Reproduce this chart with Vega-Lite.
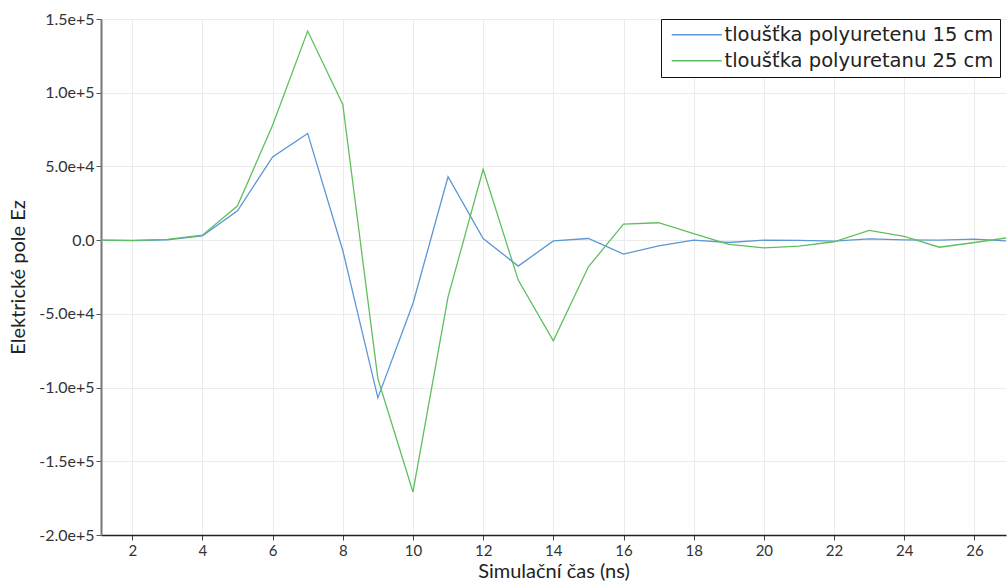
{
  "$schema": "https://vega.github.io/schema/vega-lite/v6.json",
  "width": 905,
  "height": 516,
  "autosize": {"type": "none"},
  "padding": {"left": 101, "top": 19, "right": 2, "bottom": 53},
  "background": "white",
  "config": {
    "view": {"stroke": null},
    "font": "Lato"
  },
  "data": {
    "values": [
      {"t": 1, "Ez": 0, "s": "tloušťka polyuretenu 15 cm"},
      {"t": 2, "Ez": -300, "s": "tloušťka polyuretenu 15 cm"},
      {"t": 3, "Ez": 200, "s": "tloušťka polyuretenu 15 cm"},
      {"t": 4, "Ez": 2900, "s": "tloušťka polyuretenu 15 cm"},
      {"t": 5, "Ez": 19900, "s": "tloušťka polyuretenu 15 cm"},
      {"t": 6, "Ez": 56500, "s": "tloušťka polyuretenu 15 cm"},
      {"t": 7, "Ez": 72400, "s": "tloušťka polyuretenu 15 cm"},
      {"t": 8, "Ez": -7000, "s": "tloušťka polyuretenu 15 cm"},
      {"t": 9, "Ez": -107000, "s": "tloušťka polyuretenu 15 cm"},
      {"t": 10, "Ez": -43000, "s": "tloušťka polyuretenu 15 cm"},
      {"t": 11, "Ez": 43000, "s": "tloušťka polyuretenu 15 cm"},
      {"t": 12, "Ez": 1100, "s": "tloušťka polyuretenu 15 cm"},
      {"t": 13, "Ez": -17600, "s": "tloušťka polyuretenu 15 cm"},
      {"t": 14, "Ez": -500, "s": "tloušťka polyuretenu 15 cm"},
      {"t": 15, "Ez": 1100, "s": "tloušťka polyuretenu 15 cm"},
      {"t": 16, "Ez": -9500, "s": "tloušťka polyuretenu 15 cm"},
      {"t": 17, "Ez": -3900, "s": "tloušťka polyuretenu 15 cm"},
      {"t": 18, "Ez": 0, "s": "tloušťka polyuretenu 15 cm"},
      {"t": 19, "Ez": -1600, "s": "tloušťka polyuretenu 15 cm"},
      {"t": 20, "Ez": 0, "s": "tloušťka polyuretenu 15 cm"},
      {"t": 21, "Ez": -200, "s": "tloušťka polyuretenu 15 cm"},
      {"t": 22, "Ez": -700, "s": "tloušťka polyuretenu 15 cm"},
      {"t": 23, "Ez": 900, "s": "tloušťka polyuretenu 15 cm"},
      {"t": 24, "Ez": 200, "s": "tloušťka polyuretenu 15 cm"},
      {"t": 25, "Ez": 0, "s": "tloušťka polyuretenu 15 cm"},
      {"t": 26, "Ez": 700, "s": "tloušťka polyuretenu 15 cm"},
      {"t": 27, "Ez": -700, "s": "tloušťka polyuretenu 15 cm"},
      {"t": 1, "Ez": 0, "s": "tloušťka polyuretanu 25 cm"},
      {"t": 2, "Ez": -200, "s": "tloušťka polyuretanu 25 cm"},
      {"t": 3, "Ez": 500, "s": "tloušťka polyuretanu 25 cm"},
      {"t": 4, "Ez": 3400, "s": "tloušťka polyuretanu 25 cm"},
      {"t": 5, "Ez": 23300, "s": "tloušťka polyuretanu 25 cm"},
      {"t": 6, "Ez": 78000, "s": "tloušťka polyuretanu 25 cm"},
      {"t": 7, "Ez": 141800, "s": "tloušťka polyuretanu 25 cm"},
      {"t": 8, "Ez": 92100, "s": "tloušťka polyuretanu 25 cm"},
      {"t": 9, "Ez": -93900, "s": "tloušťka polyuretanu 25 cm"},
      {"t": 10, "Ez": -170800, "s": "tloušťka polyuretanu 25 cm"},
      {"t": 11, "Ez": -38500, "s": "tloušťka polyuretanu 25 cm"},
      {"t": 12, "Ez": 48000, "s": "tloušťka polyuretanu 25 cm"},
      {"t": 13, "Ez": -27100, "s": "tloušťka polyuretanu 25 cm"},
      {"t": 14, "Ez": -68300, "s": "tloušťka polyuretanu 25 cm"},
      {"t": 15, "Ez": -18100, "s": "tloušťka polyuretanu 25 cm"},
      {"t": 16, "Ez": 10900, "s": "tloušťka polyuretanu 25 cm"},
      {"t": 17, "Ez": 11800, "s": "tloušťka polyuretanu 25 cm"},
      {"t": 18, "Ez": 4500, "s": "tloušťka polyuretanu 25 cm"},
      {"t": 19, "Ez": -2900, "s": "tloušťka polyuretanu 25 cm"},
      {"t": 20, "Ez": -5200, "s": "tloušťka polyuretanu 25 cm"},
      {"t": 21, "Ez": -4100, "s": "tloušťka polyuretanu 25 cm"},
      {"t": 22, "Ez": -1100, "s": "tloušťka polyuretanu 25 cm"},
      {"t": 23, "Ez": 6600, "s": "tloušťka polyuretanu 25 cm"},
      {"t": 24, "Ez": 2500, "s": "tloušťka polyuretanu 25 cm"},
      {"t": 25, "Ez": -4800, "s": "tloušťka polyuretanu 25 cm"},
      {"t": 26, "Ez": -1600, "s": "tloušťka polyuretanu 25 cm"},
      {"t": 27, "Ez": 1800, "s": "tloušťka polyuretanu 25 cm"}
    ]
  },
  "mark": {"type": "line", "strokeWidth": 1.3, "clip": true},
  "encoding": {
    "x": {
      "field": "t",
      "type": "quantitative",
      "scale": {"domain": [1.11, 26.9], "nice": false, "zero": false},
      "axis": {
        "title": "Simulační čas (ns)",
        "titleFontSize": 20,
        "titleFontWeight": "normal",
        "titleColor": "#222",
        "titlePadding": 3,
        "values": [2, 4, 6, 8, 10, 12, 14, 16, 18, 20, 22, 24, 26],
        "labelFontSize": 15,
        "labelColor": "#333",
        "labelPadding": 3,
        "domainColor": "#222",
        "domainWidth": 1.5,
        "tickColor": "#444",
        "tickSize": 5,
        "gridColor": "#ebebeb",
        "gridWidth": 1
      }
    },
    "y": {
      "field": "Ez",
      "type": "quantitative",
      "scale": {"domain": [-200000, 150000], "nice": false},
      "axis": {
        "title": "Elektrické pole Ez",
        "titleFontSize": 20,
        "titleFontWeight": "normal",
        "titleColor": "#222",
        "titlePadding": 10,
        "values": [-200000, -150000, -100000, -50000, 0, 50000, 100000, 150000],
        "labelExpr": "datum.value == 0 ? '0.0' : replace(format(datum.value, '.1e'), '\u2212', '-')",
        "labelFontSize": 16,
        "labelColor": "#333",
        "labelPadding": 2,
        "domainColor": "#777",
        "domainWidth": 2,
        "tickColor": "#555",
        "tickSize": 5,
        "gridColor": "#ebebeb",
        "gridWidth": 1
      }
    },
    "color": {
      "field": "s",
      "type": "nominal",
      "sort": ["tloušťka polyuretenu 15 cm", "tloušťka polyuretanu 25 cm"],
      "scale": {
        "domain": ["tloušťka polyuretenu 15 cm", "tloušťka polyuretanu 25 cm"],
        "range": ["#5b97d6", "#5fbf5f"]
      },
      "legend": {
        "title": null,
        "orient": "none",
        "legendX": 560,
        "legendY": 0,
        "symbolType": "M-1,0H9",
        "symbolSize": 100,
        "symbolStrokeWidth": 1.5,
        "labelFont": "DejaVu Sans",
        "labelFontSize": 19.5,
        "labelColor": "#222",
        "labelLimit": 400,
        "rowPadding": 5,
        "padding": 6,
        "strokeColor": "#111",
        "fillColor": "white",
        "labelOffset": 38
      }
    }
  }
}
